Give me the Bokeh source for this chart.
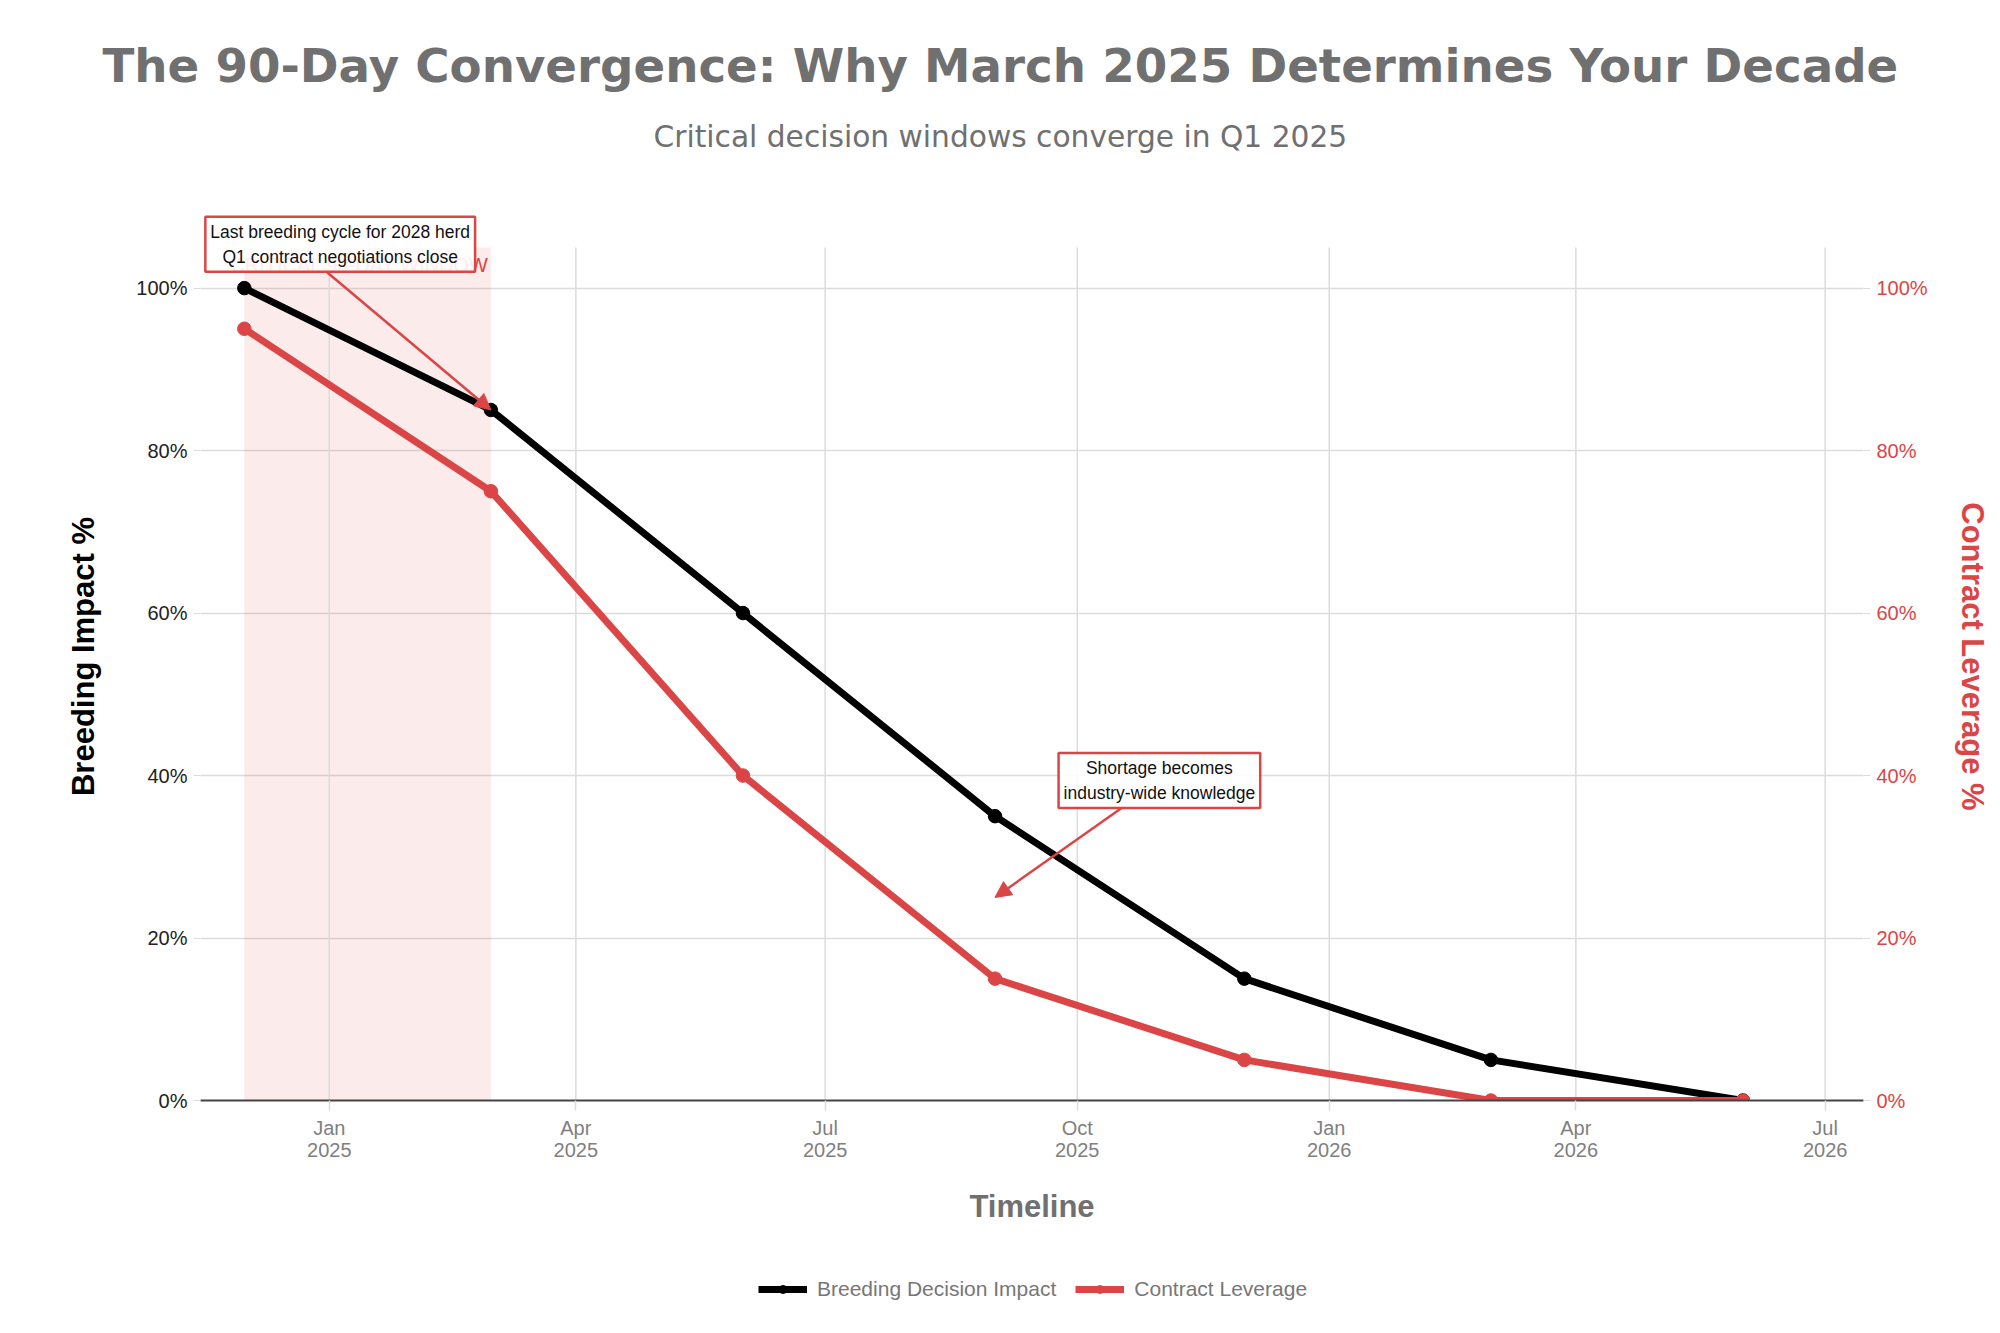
import pandas as pd
from bokeh.plotting import figure
from bokeh.layouts import column
from bokeh.models import (Range1d, LinearAxis, FixedTicker, PrintfTickFormatter,
                          DatetimeTickFormatter, Title, Legend, LegendItem, Label,
                          Arrow, NormalHead, BoxAnnotation)
from bokeh.embed import file_html
from bokeh.resources import INLINE

# ---------------- data ----------------
dates = ["2024-12-01", "2025-03-01", "2025-06-01", "2025-09-01",
         "2025-12-01", "2026-03-01", "2026-06-01"]
breeding = [100, 85, 60, 35, 15, 5, 0]
contract = [95, 75, 40, 15, 5, 0, 0]
series_names = ["Breeding Decision Impact", "Contract Leverage"]
x_ticks = ["2025-01-01", "2025-04-01", "2025-07-01", "2025-10-01",
           "2026-01-01", "2026-04-01", "2026-07-01"]
y_ticks = [0, 20, 40, 60, 80, 100]
x_limits = ["2024-11-15", "2026-07-15"]
y_limits = [0, 105]

title_text = "The 90-Day Convergence: Why March 2025 Determines Your Decade"
subtitle_text = "Critical decision windows converge in Q1 2025"
window_text = "CRITICAL 90-DAY WINDOW"
note1_text = "Last breeding cycle for 2028 herd\nQ1 contract negotiations close"
note2_text = "Shortage becomes\nindustry-wide knowledge"

RED = "#DB4545"
BLACK = "#000000"
GREY = "#707070"
GRID = "#dcdcdc"

# geometry (pixels)
FRAME_L, FRAME_R, FRAME_T, FRAME_B = 200, 1863, 212, 1100
PLOT_TOP = 247          # top of the 0..105 data area
W = 2000
H_MAIN = 1257
H_LEG = 60


def ms(d):
    return pd.Timestamp(d).value / 1e6


# extra head-room above 105 % so that the annotation box is not clipped
px_per_unit = (FRAME_B - PLOT_TOP) / (y_limits[1] - y_limits[0])
y_top = y_limits[1] + (PLOT_TOP - FRAME_T) / px_per_unit

xd = pd.to_datetime(dates)

p = figure(width=W, height=H_MAIN, output_backend="svg", toolbar_location=None,
           x_axis_type="datetime",
           x_range=Range1d(ms(x_limits[0]), ms(x_limits[1])),
           y_range=Range1d(y_limits[0], y_top),
           min_border_left=FRAME_L, min_border_right=W - FRAME_R,
           min_border_top=FRAME_T, min_border_bottom=H_MAIN - FRAME_B,
           title=None)
p.outline_line_color = None
p.background_fill_color = "white"
p.border_fill_color = "white"

# titles: spacer (closest to frame), subtitle, main title
p.add_layout(Title(text=" ", text_font_size="1px", standoff=44), "above")
p.add_layout(Title(text=subtitle_text, align="left", offset=453,
                   text_font="DejaVu Sans", text_font_size="29.7px",
                   text_font_style="normal", text_color=GREY, standoff=24), "above")
p.add_layout(Title(text=title_text, align="left", offset=-98,
                   text_font="DejaVu Sans", text_font_size="46.7px",
                   text_font_style="bold", text_color=GREY, standoff=23), "above")

# shaded window
p.add_layout(BoxAnnotation(left=ms(dates[0]), right=ms(dates[1]),
                           bottom=y_limits[0], top=y_limits[1],
                           fill_color=RED, fill_alpha=0.11, line_color=None,
                           level="underlay"))

# grids
p.xgrid.visible = False
tick_ms = [ms(t) for t in x_ticks]
p.segment(x0=tick_ms, y0=[y_limits[0]] * len(tick_ms),
          x1=tick_ms, y1=[y_limits[1]] * len(tick_ms),
          line_color=GRID, line_width=1.5)
p.ygrid.grid_line_color = GRID
p.ygrid.grid_line_width = 1.5
p.ygrid.ticker = FixedTicker(ticks=y_ticks)

# x axis
xa = p.xaxis[0]
xa.ticker = FixedTicker(ticks=tick_ms)
fmt = "%b\n%Y"
xa.formatter = DatetimeTickFormatter(milliseconds=fmt, seconds=fmt, minsec=fmt,
                                     minutes=fmt, hourmin=fmt, hours=fmt, days=fmt,
                                     months=fmt, years=fmt)
xa.axis_line_color = "#444444"
xa.axis_line_width = 2
xa.major_tick_line_color = GRID
xa.major_tick_line_width = 1.5
xa.major_tick_out = 10
xa.major_tick_in = 0
xa.minor_tick_line_color = None
xa.major_label_text_font = "Liberation Sans"
xa.major_label_text_font_size = "20px"
xa.major_label_text_line_height = 1.0
xa.major_label_text_color = "#808080"
xa.major_label_standoff = 6
xa.axis_label = "Timeline"
xa.axis_label_text_font = "Liberation Sans"
xa.axis_label_text_font_size = "31px"
xa.axis_label_text_font_style = "bold"
xa.axis_label_text_color = GREY
xa.axis_label_standoff = 25

# left axis
ya = p.yaxis[0]
ya.ticker = FixedTicker(ticks=y_ticks)
ya.formatter = PrintfTickFormatter(format="%d%%")
ya.axis_line_color = None
ya.major_tick_line_color = GRID
ya.major_tick_out = 7
ya.major_tick_in = 0
ya.minor_tick_line_color = None
ya.major_label_text_font = "Liberation Sans"
ya.major_label_text_font_size = "20px"
ya.major_label_text_color = "#222222"
ya.major_label_standoff = 6
ya.axis_label = "Breeding Impact %"
ya.axis_label_text_font = "Liberation Sans"
ya.axis_label_text_font_size = "31px"
ya.axis_label_text_font_style = "bold"
ya.axis_label_text_color = BLACK
ya.axis_label_standoff = 32

# right axis
p.extra_y_ranges = {"right": Range1d(y_limits[0], y_top)}
ra = LinearAxis(y_range_name="right", ticker=FixedTicker(ticks=y_ticks),
                formatter=PrintfTickFormatter(format="%d%%"))
ra.axis_line_color = None
ra.major_tick_line_color = GRID
ra.major_tick_out = 7
ra.major_tick_in = 0
ra.minor_tick_line_color = None
ra.major_label_text_font = "Liberation Sans"
ra.major_label_text_font_size = "20px"
ra.major_label_text_color = RED
ra.major_label_standoff = 6
ra.axis_label = "Contract Leverage %"
ra.axis_label_text_font = "Liberation Sans"
ra.axis_label_text_font_size = "31px"
ra.axis_label_text_font_style = "bold"
ra.axis_label_text_color = RED
ra.axis_label_standoff = 24
p.add_layout(ra, "right")

# series
line_kw = dict(line_width=7)
mark_kw = dict(size=13.5)
l1 = p.line(xd, breeding, line_color=BLACK, **line_kw)
s1 = p.scatter(xd, breeding, fill_color=BLACK, line_color=BLACK, **mark_kw)
l2 = p.line(xd, contract, line_color=RED, y_range_name="right", **line_kw)
s2 = p.scatter(xd, contract, fill_color=RED, line_color=RED,
               y_range_name="right", **mark_kw)

# window label
p.add_layout(Label(x=ms(dates[1]), y=104.2, x_offset=-2, text=window_text,
                   text_align="right", text_baseline="top",
                   text_font="Liberation Sans", text_font_size="20px",
                   text_color=RED))

# annotations: arrow target, text box centre, arrow tail
note1 = dict(tx=dates[1], ty=breeding[1], bx="2025-01-05", by=105.4,
             ax="2024-12-30", ay=102.3)
note2 = dict(tx=dates[3], ty=25, bx="2025-10-31", by=39.4,
             ax="2025-10-18", ay=36.2)

for n, txt in ((note1, note1_text), (note2, note2_text)):
    p.add_layout(Arrow(x_start=ms(n["ax"]), y_start=n["ay"],
                       x_end=ms(n["tx"]), y_end=n["ty"],
                       line_color=RED, line_width=2.5,
                       end=NormalHead(size=16, fill_color=RED, line_color=RED)))
    p.add_layout(Label(x=ms(n["bx"]), y=n["by"], text=txt,
                       text_align="center", text_baseline="middle",
                       text_font="Liberation Sans", text_font_size="17.5px",
                       text_color="#111111", text_line_height=1.25,
                       background_fill_color="white", background_fill_alpha=0.9,
                       border_line_color=RED, border_line_width=2.5,
                       padding=5))

# ---------------- legend strip (separate figure below the chart) ----------------
q = figure(width=W, height=H_LEG, output_backend="svg", toolbar_location=None,
           x_axis_type="datetime",
           x_range=Range1d(0, 1), y_range=Range1d(0, 1),
           min_border=0, title=None)
q.axis.visible = False
q.grid.visible = False
q.outline_line_color = None
q.border_fill_color = "white"
# same series, out of the strip's view: only their legend glyphs are shown
ql1 = q.line(xd, breeding, line_color=BLACK, **line_kw)
qs1 = q.scatter(xd, breeding, fill_color=BLACK, line_color=BLACK, size=15)
ql2 = q.line(xd, contract, line_color=RED, **line_kw)
qs2 = q.scatter(xd, contract, fill_color=RED, line_color=RED, size=15)

legend = Legend(items=[LegendItem(label=series_names[0], renderers=[ql1, qs1]),
                       LegendItem(label=series_names[1], renderers=[ql2, qs2])],
                orientation="horizontal", location=(558, 16),
                border_line_color=None, background_fill_alpha=0,
                label_text_font="Liberation Sans", label_text_font_size="21px",
                label_text_color="#777777", glyph_width=49, glyph_height=20,
                label_standoff=10, spacing=19, margin=0, padding=0)
q.add_layout(legend)

layout = column(p, q, spacing=0)
open("out.html", "w").write(file_html(layout, INLINE))
